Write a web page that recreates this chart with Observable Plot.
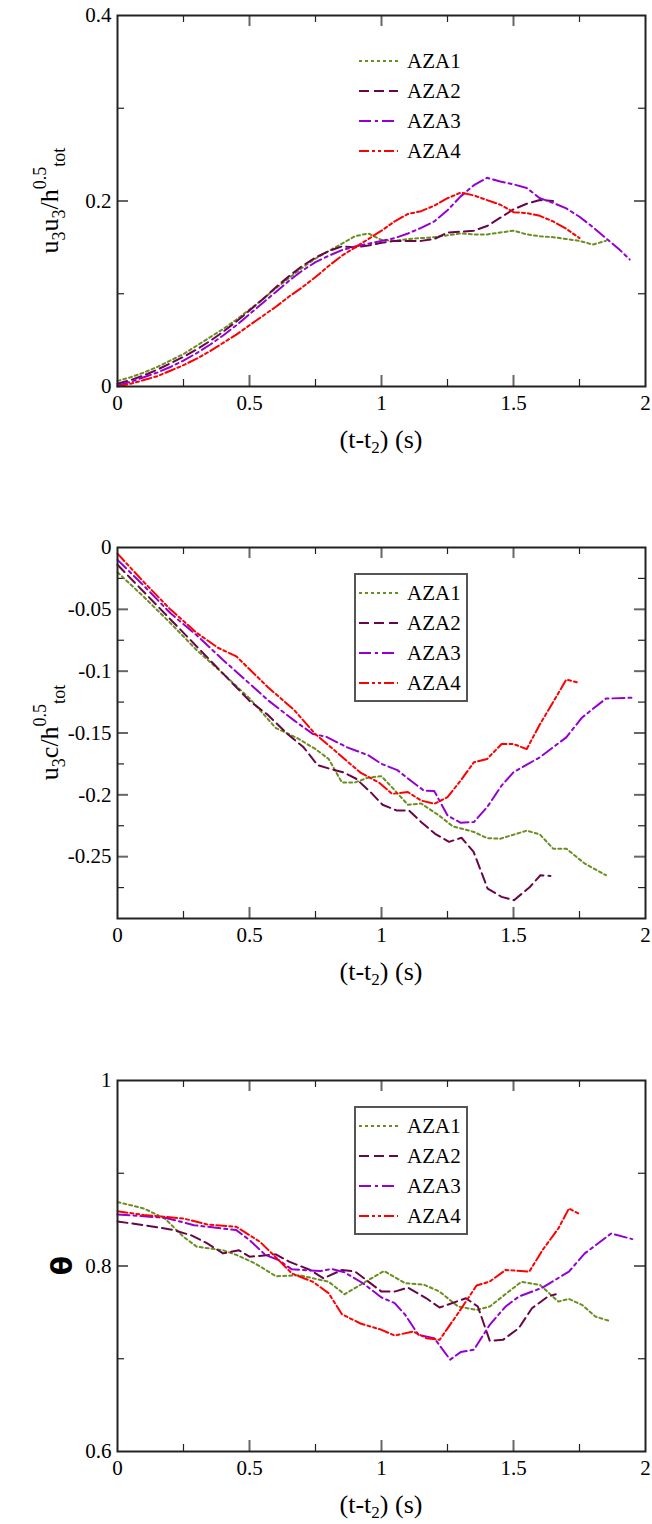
<!DOCTYPE html>
<html><head><meta charset="utf-8">
<script src="https://cdn.jsdelivr.net/npm/d3@7"></script>
<script src="https://cdn.jsdelivr.net/npm/@observablehq/plot@0.6"></script>
<style>
body{margin:0;background:#fff;}
#root{position:relative;width:652px;height:1524px;}
.panel{position:absolute;left:0;}
svg text, svg tspan { font-family: "Liberation Serif", "DejaVu Serif", serif !important; }
svg text.theta { font-family: "DejaVu Sans", sans-serif !important; }
</style></head><body><div id="root"></div>
<script>
// ---------- categories & styles ----------
const seriesNames = ["AZA1", "AZA2", "AZA3", "AZA4"];
const seriesColors = ["#6b8e23", "#670748", "#9400d3", "#ff0000"];
const seriesDashes = ["3,3", "10,5", "12,4,3,4", "10,3,3,3,3,3"];

// ---------- ticks ----------
const xMajor = [0, 0.5, 1, 1.5, 2];
const xMinor = [0.25, 0.75, 1.25, 1.75];
const xTickLabels = ["0", "0.5", "1", "1.5", "2"];
const y1Major = [0, 0.2, 0.4];
const y1Minor = [0.1, 0.3];
const y1TickLabels = ["0", "0.2", "0.4"];
const y2Major = [0, -0.05, -0.1, -0.15, -0.2, -0.25];
const y2Minor = [-0.025, -0.075, -0.125, -0.175, -0.225, -0.275];
const y2TickLabels = ["0", "-0.05", "-0.1", "-0.15", "-0.2", "-0.25"];
const y3Major = [0.6, 0.8, 1];
const y3Minor = [0.7, 0.9];
const y3TickLabels = ["0.6", "0.8", "1"];

// ---------- panel 1 : u3u3/h^0.5 ----------
const p1_AZA1_t = [0,0.05,0.1,0.15,0.2,0.25,0.3,0.35,0.4,0.45,0.5,0.55,0.6,0.65,0.7,0.75,0.8,0.85,0.9,0.95,1.0,1.05,1.1,1.15,1.2,1.25,1.3,1.35,1.4,1.45,1.5,1.55,1.6,1.65,1.7,1.75,1.8,1.85];
const p1_AZA1_v = [0.006,0.010,0.015,0.021,0.028,0.035,0.044,0.053,0.062,0.072,0.083,0.094,0.106,0.117,0.128,0.138,0.146,0.154,0.162,0.165,0.158,0.157,0.159,0.160,0.161,0.163,0.165,0.164,0.164,0.166,0.168,0.164,0.162,0.161,0.159,0.157,0.153,0.157];
const p1_AZA2_t = [0,0.05,0.1,0.15,0.2,0.25,0.3,0.35,0.4,0.45,0.5,0.55,0.6,0.65,0.7,0.75,0.8,0.85,0.9,0.95,1.0,1.05,1.1,1.15,1.2,1.25,1.3,1.35,1.4,1.45,1.5,1.55,1.6,1.65];
const p1_AZA2_v = [0.003,0.007,0.012,0.018,0.025,0.032,0.040,0.049,0.059,0.070,0.082,0.094,0.107,0.119,0.130,0.139,0.146,0.151,0.150,0.152,0.155,0.157,0.157,0.157,0.159,0.166,0.167,0.168,0.173,0.182,0.191,0.197,0.201,0.200];
const p1_AZA3_t = [0,0.05,0.1,0.15,0.2,0.25,0.3,0.35,0.4,0.45,0.5,0.55,0.6,0.65,0.7,0.75,0.8,0.85,0.9,0.95,1.0,1.05,1.1,1.15,1.2,1.25,1.3,1.35,1.4,1.45,1.5,1.55,1.6,1.65,1.7,1.75,1.8,1.85,1.9,1.94];
const p1_AZA3_v = [0.001,0.005,0.010,0.015,0.021,0.028,0.036,0.045,0.055,0.066,0.078,0.090,0.102,0.114,0.125,0.134,0.141,0.147,0.151,0.154,0.157,0.160,0.165,0.171,0.178,0.190,0.205,0.217,0.225,0.221,0.218,0.214,0.203,0.198,0.192,0.183,0.172,0.160,0.148,0.137];
const p1_AZA4_t = [0,0.05,0.1,0.15,0.2,0.25,0.3,0.35,0.4,0.45,0.5,0.55,0.6,0.65,0.7,0.75,0.8,0.85,0.9,0.95,1.0,1.05,1.1,1.15,1.2,1.25,1.3,1.35,1.4,1.45,1.5,1.55,1.6,1.65,1.7,1.75];
const p1_AZA4_v = [0.000,0.003,0.007,0.011,0.017,0.023,0.030,0.038,0.047,0.056,0.066,0.076,0.086,0.097,0.107,0.118,0.130,0.141,0.150,0.159,0.168,0.178,0.186,0.189,0.195,0.203,0.209,0.206,0.201,0.196,0.188,0.187,0.184,0.178,0.170,0.160];

// ---------- panel 2 : u3c/h^0.5 ----------
const p2_AZA1_t = [0,0.1,0.2,0.3,0.4,0.5,0.6,0.68,0.75,0.8,0.85,0.9,0.95,1.0,1.04,1.1,1.15,1.22,1.27,1.35,1.4,1.45,1.55,1.6,1.65,1.7,1.77,1.85];
const p2_AZA1_v = [-0.020,-0.040,-0.061,-0.083,-0.102,-0.122,-0.146,-0.154,-0.163,-0.171,-0.190,-0.190,-0.186,-0.185,-0.194,-0.208,-0.207,-0.217,-0.2255,-0.230,-0.235,-0.2355,-0.229,-0.232,-0.2435,-0.2435,-0.2556,-0.265];
const p2_AZA2_t = [0,0.1,0.2,0.3,0.4,0.5,0.566,0.645,0.705,0.758,0.805,0.858,0.904,0.964,1.004,1.057,1.104,1.15,1.203,1.256,1.303,1.349,1.402,1.455,1.502,1.562,1.602,1.64];
const p2_AZA2_v = [-0.014,-0.036,-0.058,-0.080,-0.102,-0.124,-0.1347,-0.151,-0.1616,-0.176,-0.179,-0.182,-0.187,-0.199,-0.208,-0.2126,-0.2126,-0.222,-0.2315,-0.238,-0.2347,-0.2462,-0.2758,-0.2825,-0.2852,-0.2745,-0.265,-0.2656];
const p2_AZA3_t = [0,0.1,0.2,0.3,0.4,0.5,0.57,0.67,0.74,0.79,0.87,0.95,1.0,1.06,1.11,1.16,1.2,1.25,1.3,1.35,1.4,1.455,1.5,1.6,1.7,1.76,1.85,1.95];
const p2_AZA3_v = [-0.010,-0.031,-0.053,-0.071,-0.091,-0.110,-0.1235,-0.140,-0.1508,-0.153,-0.1616,-0.168,-0.175,-0.180,-0.1884,-0.1965,-0.197,-0.2167,-0.2226,-0.222,-0.210,-0.1925,-0.1817,-0.1696,-0.1535,-0.1374,-0.1222,-0.1214];
const p2_AZA4_t = [0,0.1,0.2,0.3,0.38,0.45,0.57,0.67,0.75,0.8,0.86,0.92,0.99,1.04,1.1,1.15,1.2,1.25,1.3,1.35,1.4,1.455,1.5,1.55,1.6,1.65,1.7,1.75];
const p2_AZA4_v = [-0.005,-0.028,-0.050,-0.069,-0.081,-0.088,-0.113,-0.1316,-0.151,-0.160,-0.171,-0.182,-0.190,-0.1992,-0.1978,-0.2046,-0.2073,-0.2019,-0.1884,-0.1737,-0.171,-0.1589,-0.1589,-0.163,-0.143,-0.125,-0.1068,-0.1095];

// ---------- panel 3 : theta ----------
const p3_AZA1_t = [0,0.1,0.18,0.25,0.3,0.4,0.45,0.52,0.6,0.69,0.8,0.86,0.93,1.01,1.09,1.16,1.22,1.29,1.36,1.41,1.48,1.53,1.6,1.67,1.71,1.76,1.81,1.86];
const p3_AZA1_v = [0.869,0.862,0.851,0.8315,0.8208,0.817,0.812,0.803,0.789,0.790,0.783,0.7695,0.7814,0.7946,0.7814,0.780,0.7724,0.7563,0.7527,0.7563,0.772,0.783,0.7796,0.7616,0.7645,0.758,0.7455,0.741];
const p3_AZA2_t = [0,0.1,0.21,0.28,0.34,0.4,0.46,0.5,0.6,0.65,0.73,0.78,0.85,0.9,1.0,1.05,1.1,1.17,1.22,1.32,1.365,1.41,1.46,1.52,1.57,1.63,1.66];
const p3_AZA2_v = [0.848,0.844,0.839,0.833,0.8244,0.8136,0.817,0.810,0.8125,0.8047,0.7957,0.7867,0.7957,0.794,0.7724,0.7724,0.7767,0.7652,0.7552,0.7652,0.7563,0.7194,0.7204,0.733,0.7545,0.767,0.7695];
const p3_AZA3_t = [0,0.18,0.29,0.45,0.5,0.56,0.61,0.66,0.77,0.81,0.86,0.93,1.0,1.05,1.09,1.14,1.2,1.26,1.3,1.35,1.41,1.47,1.52,1.61,1.71,1.77,1.87,1.95];
const p3_AZA3_v = [0.8556,0.852,0.844,0.8387,0.828,0.812,0.8065,0.7964,0.7946,0.7968,0.7932,0.7814,0.766,0.760,0.7473,0.7258,0.7222,0.699,0.7072,0.7097,0.7366,0.7563,0.767,0.7767,0.794,0.8136,0.835,0.829];
const p3_AZA4_t = [0,0.1,0.25,0.34,0.45,0.54,0.61,0.66,0.74,0.8,0.85,0.92,1.0,1.05,1.12,1.17,1.22,1.29,1.36,1.41,1.47,1.56,1.61,1.67,1.71,1.75];
const p3_AZA4_v = [0.859,0.855,0.8512,0.8448,0.8423,0.826,0.8065,0.792,0.783,0.7706,0.748,0.738,0.7312,0.725,0.7294,0.7222,0.7204,0.749,0.7789,0.7832,0.7957,0.794,0.8172,0.8405,0.862,0.856];

// ---------- layout ----------
const W = 652, ML = 117, MR = 7, MT = 15, IH = 371, MB = 90, H = MT + IH + MB;
const IW = W - ML - MR;
const SERIF = '"Liberation Serif", "DejaVu Serif", serif';

function rowsOf(ts, vs) { return ts.map((t, i) => ({t, v: vs[i]})); }

function makePanel(opts) {
  const {yDomain, yMajor, yMinor, yLabels, series, legendBox, title} = opts;
  const lo = Math.min(...yDomain), hi = Math.max(...yDomain);
  const yMajIn = yMajor.filter(v => v > lo + 1e-9 && v < hi - 1e-9);
  const xMajIn = xMajor.filter(v => v > 0 && v < 2);
  const majStyle = {stroke: "#666", strokeWidth: 2};
  const minStyle = {stroke: "#222", strokeWidth: 1.2};
  const marks = [
    Plot.tickX(xMajIn, {x: d => d, insetTop: IH - 11, ...majStyle}),
    Plot.tickX(xMajIn, {x: d => d, insetBottom: IH - 11, ...majStyle}),
    Plot.tickX(xMinor, {x: d => d, insetTop: IH - 7, ...minStyle}),
    Plot.tickX(xMinor, {x: d => d, insetBottom: IH - 7, ...minStyle}),
    Plot.tickY(yMajIn, {y: d => d, insetRight: IW - 11, ...majStyle}),
    Plot.tickY(yMajIn, {y: d => d, insetLeft: IW - 11, ...majStyle}),
    Plot.tickY(yMinor, {y: d => d, insetRight: IW - 7, ...minStyle}),
    Plot.tickY(yMinor, {y: d => d, insetLeft: IW - 7, ...minStyle}),
    Plot.axisX({ticks: xMajor, tickSize: 0, tickPadding: 9, fontSize: 21,
      tickFormat: d => xTickLabels[xMajor.indexOf(d)], label: null}),
    Plot.axisY({ticks: yMajor, tickSize: 0, tickPadding: 6, fontSize: 21,
      tickFormat: d => yLabels[yMajor.indexOf(d)], label: null}),
    ...series.map((s, i) => Plot.line(rowsOf(s[0], s[1]), {
      x: "t", y: "v", stroke: seriesColors[i], strokeDasharray: seriesDashes[i],
      strokeWidth: 2
    })),
    Plot.frame({stroke: "#222", strokeWidth: 2})
  ];
  const svg = Plot.plot({
    width: W, height: H,
    marginLeft: ML, marginRight: MR, marginTop: MT, marginBottom: MB,
    x: {domain: [0, 2]},
    y: {domain: yDomain},
    style: {fontFamily: SERIF, color: "#000", background: "#fff", overflow: "visible"},
    marks
  });
  const g = d3.select(svg).append("g").attr("font-family", SERIF);

  if (legendBox) {
    g.append("rect").attr("x", 355).attr("y", MT + 27).attr("width", 112).attr("height", 127)
      .attr("fill", "#fff").attr("stroke", "#555").attr("stroke-width", 2);
  }
  seriesNames.forEach((name, i) => {
    const y = MT + 46 + 30 * i;
    g.append("line").attr("x1", 359).attr("x2", 398).attr("y1", y).attr("y2", y)
      .attr("stroke", seriesColors[i]).attr("stroke-width", 2)
      .attr("stroke-dasharray", seriesDashes[i]);
    g.append("text").attr("x", 407).attr("y", y).attr("dy", "0.35em")
      .attr("text-anchor", "start")
      .attr("font-size", 21).attr("fill", "#000").text(name);
  });

  const xt = g.append("text").attr("x", ML + IW / 2).attr("y", MT + IH + 62)
    .attr("text-anchor", "middle").attr("font-size", 26).attr("fill", "#000");
  xt.append("tspan").text("(t-t");
  xt.append("tspan").attr("dy", 5).attr("font-size", 17).text("2");
  xt.append("tspan").attr("dy", -5).text(") (s)");

  title(g);
  return svg;
}

function yTitleFraction(parts) {
  return g => {
    const t = g.append("text")
      .attr("transform", `translate(58,${MT + IH / 2}) rotate(-90)`)
      .attr("text-anchor", "middle").attr("font-size", 26).attr("fill", "#000");
    let cur = 0;
    parts.forEach(([txt, kind]) => {
      const target = kind === "sub" ? 7 : kind === "sup" ? -12 : 0;
      t.append("tspan").attr("dy", target - cur)
        .attr("font-size", kind ? 18 : 26).text(txt);
      cur = target;
    });
  };
}

const panels = [
  {
    top: 0, yDomain: [0, 0.4], yMajor: y1Major, yMinor: y1Minor, yLabels: y1TickLabels, legendBox: false,
    series: [[p1_AZA1_t, p1_AZA1_v], [p1_AZA2_t, p1_AZA2_v], [p1_AZA3_t, p1_AZA3_v], [p1_AZA4_t, p1_AZA4_v]],
    title: yTitleFraction([["u"], ["3", "sub"], ["u"], ["3", "sub"], ["/h"], ["0.5", "sup"], ["tot", "sub"]])
  },
  {
    top: 532, yDomain: [-0.3, 0], yMajor: y2Major, yMinor: y2Minor, yLabels: y2TickLabels, legendBox: true,
    series: [[p2_AZA1_t, p2_AZA1_v], [p2_AZA2_t, p2_AZA2_v], [p2_AZA3_t, p2_AZA3_v], [p2_AZA4_t, p2_AZA4_v]],
    title: yTitleFraction([["u"], ["3", "sub"], ["c/h"], ["0.5", "sup"], ["tot", "sub"]])
  },
  {
    top: 1065, yDomain: [0.6, 1], yMajor: y3Major, yMinor: y3Minor, yLabels: y3TickLabels, legendBox: true,
    series: [[p3_AZA1_t, p3_AZA1_v], [p3_AZA2_t, p3_AZA2_v], [p3_AZA3_t, p3_AZA3_v], [p3_AZA4_t, p3_AZA4_v]],
    title: g => {
      g.append("text").attr("class", "theta")
        .attr("transform", `translate(62,${MT + IH / 2}) rotate(-90)`)
        .attr("text-anchor", "middle").attr("dy", "0.35em")
        .attr("font-size", 28).attr("font-weight", "bold")
        .attr("fill", "#000").text("θ");
    }
  }
];

const root = document.getElementById("root");
panels.forEach(p => {
  const div = document.createElement("div");
  div.className = "panel";
  div.style.top = p.top + "px";
  div.appendChild(makePanel(p));
  root.appendChild(div);
});
</script>
</body></html>
